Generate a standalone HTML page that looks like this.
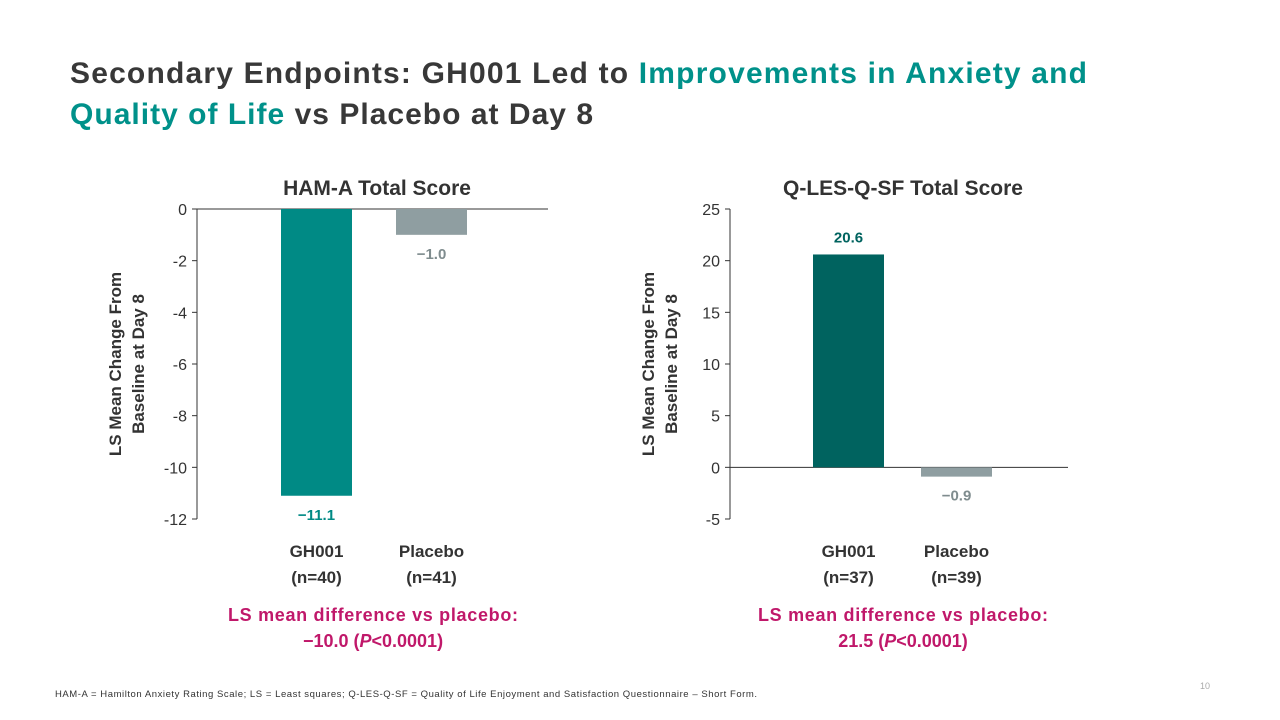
<!DOCTYPE html>
<html><head><meta charset="utf-8"><style>
body{margin:0;background:#fff;}
svg{display:block;font-family:"Liberation Sans","DejaVu Sans",sans-serif;}
</style></head><body>
<svg width="1280" height="720" viewBox="0 0 1280 720" id="root">
<g font-size="30" font-weight="bold" fill="#383838">
<text x="70" y="83" textLength="1017" lengthAdjust="spacing">Secondary Endpoints: GH001 Led to <tspan fill="#00918A">Improvements in Anxiety and</tspan></text>
<text x="70" y="124" textLength="523" lengthAdjust="spacing"><tspan fill="#00918A">Quality of Life</tspan> vs Placebo at Day 8</text>
</g>
<g id="c1"></g>
<g id="c2"></g>
<g font-size="18" font-weight="bold" fill="#C0186A" text-anchor="middle">
<text x="373" y="621" textLength="290" lengthAdjust="spacing">LS mean difference vs placebo:</text>
<text x="373" y="647">−10.0 (<tspan font-style="italic">P</tspan>&lt;0.0001)</text>
</g>
<g font-size="18" font-weight="bold" fill="#C0186A" text-anchor="middle">
<text x="903" y="621" textLength="290" lengthAdjust="spacing">LS mean difference vs placebo:</text>
<text x="903" y="647">21.5 (<tspan font-style="italic">P</tspan>&lt;0.0001)</text>
</g>
<text x="55" y="697" font-size="9.5" fill="#333" textLength="702" lengthAdjust="spacing">HAM-A = Hamilton Anxiety Rating Scale; LS = Least squares; Q-LES-Q-SF = Quality of Life Enjoyment and Satisfaction Questionnaire – Short Form.</text>
<text x="1205" y="689" font-size="9" fill="#aaa" text-anchor="middle">10</text>
</svg>
<script>
const c1Categories=["GH001","(n=40)","Placebo","(n=41)"];
const c1Values=[-11.1,-1.0];
const c1Labels=["−11.1","−1.0"];
const c1Ticks=[0,-2,-4,-6,-8,-10,-12];
const c2Categories=["GH001","(n=37)","Placebo","(n=39)"];
const c2Values=[20.6,-0.9];
const c2Labels=["20.6","−0.9"];
const c2Ticks=[25,20,15,10,5,0,-5];
const NS="http://www.w3.org/2000/svg";
function mk(p,t,a,txt){const e=document.createElementNS(NS,t);for(const k in a)e.setAttribute(k,a[k]);if(txt!=null)e.textContent=txt;p.appendChild(e);return e;}
function draw(g,o){
 const y=v=>209+(o.max-v)/(o.max-o.min)*310;
 const t=mk(g,'text',{x:o.cx,y:195,'font-size':21,'font-weight':'bold',fill:'#333','text-anchor':'middle'},o.title);
 
 
 const ax=mk(g,'line',{x1:o.ax,x2:o.ax,y1:209,y2:519,stroke:'#333','stroke-width':1});
 
 
 o.ticks.forEach(v=>{
  const tk=mk(g,'line',{x1:o.ax-5,x2:o.ax,y1:y(v),y2:y(v),stroke:'#333'});
  
  
  const l=mk(g,'text',{x:o.ax-10,y:y(v)+6,'font-size':16,fill:'#333','text-anchor':'end'},String(v));
  
  
 });
 const z=mk(g,'line',{x1:o.ax,x2:o.ax+o.zw,y1:y(0),y2:y(0),stroke:'#333'});
 
 
 const cols=[o.c0,'#8F9EA1'],lc=[o.c0,'#7F8C8E'];
 o.vals.forEach((v,i)=>{
  const bx=o.bx[i],top=Math.min(y(0),y(v)),h=Math.abs(y(v)-y(0));
  const r=mk(g,'rect',{x:bx,y:top,width:71,height:h,fill:cols[i]});
  
  
  const ly=v>=0?y(v)-12:y(v)+24;
  const l=mk(g,'text',{x:bx+35.5,y:ly,'font-size':15,'font-weight':'bold',fill:lc[i],'text-anchor':'middle'},o.labels[i]);
  
  
  const c1=mk(g,'text',{x:bx+35.5,y:557,'font-size':17,'font-weight':'bold',fill:'#333','text-anchor':'middle'},o.cats[i*2]);
  
  
  const c2=mk(g,'text',{x:bx+35.5,y:583,'font-size':17,'font-weight':'bold',fill:'#333','text-anchor':'middle'},o.cats[i*2+1]);
  
  
 });
 const yt=mk(g,'text',{transform:`translate(${o.ax-64},364) rotate(-90)`,'font-size':17,'font-weight':'bold',fill:'#333','text-anchor':'middle'});
 
 
 mk(yt,'tspan',{x:0,y:-12},'LS Mean Change From');
 mk(yt,'tspan',{x:0,y:11},'Baseline at Day 8');
}
draw(document.getElementById('c1'),{title:'HAM-A Total Score',cx:377,ax:197,zw:351,max:0,min:-12,ticks:c1Ticks,vals:c1Values,labels:c1Labels,cats:c1Categories,bx:[281,396],c0:'#008A85'});
draw(document.getElementById('c2'),{title:'Q-LES-Q-SF Total Score',cx:903,ax:730,zw:338,max:25,min:-5,ticks:c2Ticks,vals:c2Values,labels:c2Labels,cats:c2Categories,bx:[813,921],c0:'#00635F'});
</script>
</body></html>
